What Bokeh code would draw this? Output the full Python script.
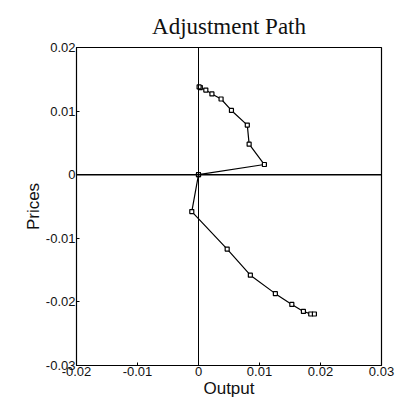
from bokeh.plotting import figure
from bokeh.models import FixedTicker, Span
from bokeh.embed import file_html
from bokeh.resources import INLINE

# Upper adjustment path (from origin)
upper_x = [0.0, 0.0108, 0.0083, 0.0080, 0.0054, 0.0037, 0.0022, 0.0012, 0.0003, 0.0001]
upper_y = [0.0, 0.0016, 0.0048, 0.0078, 0.0101, 0.0119, 0.0127, 0.0133, 0.0137, 0.0138]
# Lower adjustment path (from origin)
lower_x = [0.0, -0.0011, 0.0047, 0.0085, 0.0126, 0.0153, 0.0172, 0.0184, 0.0190]
lower_y = [0.0, -0.0058, -0.0117, -0.0158, -0.0187, -0.0204, -0.0215, -0.0219, -0.0219]

x_ticks = [-0.02, -0.01, 0.0, 0.01, 0.02, 0.03]
x_labels = ["-0.02", "-0.01", "0", "0.01", "0.02", "0.03"]
y_ticks = [-0.03, -0.02, -0.01, 0.0, 0.01, 0.02]
y_labels = ["-0.03", "-0.02", "-0.01", "0", "0.01", "0.02"]

p = figure(width=400, height=400, output_backend="svg", toolbar_location=None,
           x_range=(-0.02, 0.03), y_range=(-0.03, 0.02),
           min_border_left=76, min_border_right=19, min_border_top=47, min_border_bottom=35,
           title="Adjustment Path")
p.title.text_font = "Liberation Serif"
p.title.text_font_size = "23px"
p.title.text_font_style = "normal"
p.title.align = "center"
p.title.text_color = "#111111"
p.title.standoff = 17

p.xgrid.visible = False
p.ygrid.visible = False
p.outline_line_color = "black"
p.outline_line_width = 1.2
p.background_fill_color = "white"
p.border_fill_color = "white"

for ax, ticks, labels in ((p.xaxis[0], x_ticks, x_labels), (p.yaxis[0], y_ticks, y_labels)):
    ax.ticker = FixedTicker(ticks=ticks)
    ax.major_label_overrides = {t: l for t, l in zip(ticks, labels)}
    ax.major_tick_in = 3
    ax.major_tick_out = 0
    ax.minor_tick_in = 0
    ax.minor_tick_out = 0
    ax.axis_line_color = "black"
    ax.major_tick_line_color = "black"
    ax.major_label_text_font = "Liberation Sans"
    ax.major_label_text_font_size = "13px"
    ax.major_label_text_color = "#111111"
    ax.axis_label_text_font = "Liberation Sans"
    ax.axis_label_text_font_size = "17px"
    ax.axis_label_text_font_style = "normal"
    ax.axis_label_text_color = "#111111"
    ax.major_label_standoff = 1
    ax.axis_label_standoff = 0

p.xaxis.axis_label = "Output"
p.yaxis.axis_label = "Prices"

p.add_layout(Span(location=0, dimension="width", line_color="black", line_width=1.5))
p.add_layout(Span(location=0, dimension="height", line_color="black", line_width=1))

for xs, ys in ((upper_x, upper_y), (lower_x, lower_y)):
    p.line(xs, ys, line_color="black", line_width=1.2)
    p.scatter(xs, ys, marker="square", size=4, fill_color="white", line_color="black", line_width=1.2)

open("out.html", "w").write(file_html(p, INLINE))
